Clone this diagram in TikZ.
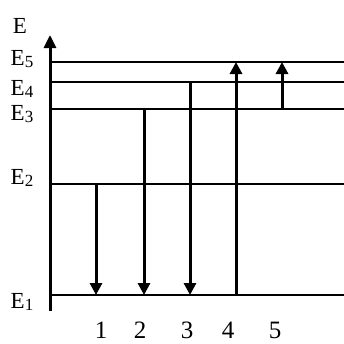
\documentclass[tikz,border=0pt]{standalone}
\usepackage{fontspec}
\setmainfont{Liberation Serif}
\usetikzlibrary{arrows.meta}

\newcommand{\lvlname}[1]{E\raisebox{-2.5pt}{\fontsize{17}{17}\selectfont #1}}

\begin{document}
\begin{tikzpicture}[x=1pt,y=-1pt,
  level/.style={line width=1.4pt},
  axis/.style={line width=3pt,-{Triangle[width=12pt,length=13pt]}},
  trans/.style={line width=3pt,-{Triangle[width=12pt,length=12pt]}},
  lab/.style={anchor=base,inner sep=0pt,font=\fontsize{23}{26}\selectfont},
  num/.style={anchor=base,inner sep=0pt,font=\fontsize{25}{28}\selectfont}]
  \useasboundingbox (0,0) rectangle (344,343);

  % energy axis
  \coordinate (ax0) at (50,311);
  \coordinate (ax1) at (50,35);
  \draw[axis] (ax0) -- (ax1);
  \node[lab] (eaxis) at (20,33) {E};

  % levels
  \foreach \n/\y/\b in {1/295/308,2/184/184,3/109/120,4/82/95,5/62/65} {
    \coordinate (L\n) at (50,\y);
    \coordinate (R\n) at (344,\y);
    \draw[level] (L\n) -- (R\n);
    \node[lab] (e\n) at (22,\b) {\lvlname{\n}};
  }

  % transitions
  \foreach \n/\x/\t in {1/96/101,2/144/140,3/190/187,4/236/228,5/282/275} {
    \coordinate (c\n) at (\x,0);
    \node[num] (n\n) at (\t,338) {\n};
  }
  \draw[trans] (L2 -| c1) -- (L1 -| c1);
  \draw[trans] (L3 -| c2) -- (L1 -| c2);
  \draw[trans] (L4 -| c3) -- (L1 -| c3);
  \draw[trans] (L1 -| c4) -- (L5 -| c4);
  \draw[trans] (L3 -| c5) -- (L5 -| c5);
\end{tikzpicture}
\end{document}
